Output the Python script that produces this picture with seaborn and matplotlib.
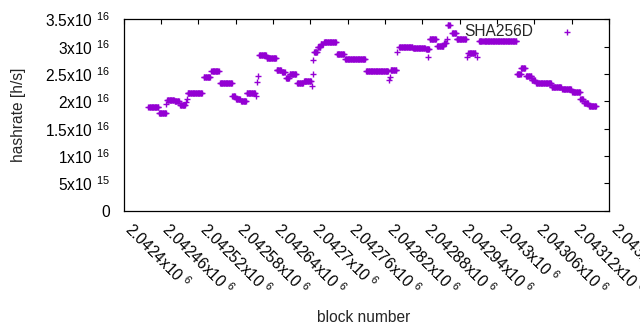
import numpy as np
import pandas as pd
import matplotlib
matplotlib.use('Agg')
import matplotlib.pyplot as plt
import seaborn as sns

# Hashrate plateaus: block range (first, last) and value in 1e16 h/s
run_start = [2042440, 2042457, 2042468, 2042470, 2042482, 2042491, 2042500, 2042502,
             2042503, 2042529, 2042541, 2042555, 2042575, 2042581, 2042589, 2042598,
             2042613, 2042614, 2042616, 2042618, 2042630, 2042646, 2042655, 2042661,
             2042667, 2042679, 2042690, 2042703, 2042704, 2042705, 2042706, 2042712,
             2042717, 2042722, 2042743, 2042756, 2042790, 2042827, 2042828, 2042829,
             2042839, 2042843, 2042865, 2042886, 2042890, 2042892, 2042904, 2042915,
             2042919, 2042921, 2042928, 2042935, 2042952, 2042954, 2042968, 2042971,
             2042978, 2043032, 2043039, 2043047, 2043056, 2043063, 2043088, 2043105,
             2043121, 2043134, 2043140, 2043148]
run_end = [2042456, 2042468, 2042468, 2042481, 2042489, 2042499, 2042500, 2042502,
           2042526, 2042539, 2042553, 2042574, 2042579, 2042587, 2042597, 2042611,
           2042613, 2042614, 2042616, 2042629, 2042645, 2042653, 2042659, 2042666,
           2042677, 2042688, 2042701, 2042703, 2042704, 2042705, 2042711, 2042716,
           2042720, 2042741, 2042754, 2042788, 2042825, 2042827, 2042828, 2042838,
           2042839, 2042864, 2042884, 2042891, 2042890, 2042902, 2042914, 2042918,
           2042919, 2042924, 2042934, 2042950, 2042952, 2042965, 2042968, 2042976,
           2043031, 2043038, 2043045, 2043055, 2043061, 2043087, 2043103, 2043119,
           2043133, 2043138, 2043146, 2043159]
run_hashrate = [1.89, 1.79, 1.95, 2.03, 2.00, 1.93, 1.99, 2.04,
                2.16, 2.45, 2.55, 2.33, 2.10, 2.04, 2.00, 2.16,
                2.10, 2.36, 2.46, 2.84, 2.79, 2.57, 2.53, 2.43,
                2.51, 2.34, 2.38, 2.28, 2.51, 2.76, 2.91, 2.99,
                3.05, 3.08, 2.86, 2.77, 2.55, 2.39, 2.45, 2.58,
                2.90, 3.00, 2.98, 2.95, 2.82, 3.14, 3.02, 3.07,
                3.14, 3.39, 3.25, 3.14, 2.82, 2.88, 2.81, 3.10,
                3.11, 2.51, 2.61, 2.46, 2.40, 2.34, 2.26, 2.23,
                2.17, 2.04, 1.97, 1.91]

x_ticks = [2042400 + 60 * i for i in range(14)]
x_ticklabels = ['2.0424x10 $^{6}$', '2.04246x10 $^{6}$', '2.04252x10 $^{6}$', '2.04258x10 $^{6}$',
                '2.04264x10 $^{6}$', '2.0427x10 $^{6}$', '2.04276x10 $^{6}$', '2.04282x10 $^{6}$',
                '2.04288x10 $^{6}$', '2.04294x10 $^{6}$', '2.043x10 $^{6}$', '2.04306x10 $^{6}$',
                '2.04312x10 $^{6}$', '2.04318x10 $^{6}$']
y_ticks = [0, 5e15, 1e16, 1.5e16, 2e16, 2.5e16, 3e16, 3.5e16]
y_ticklabels = ['0', '5x10 $^{15}$', '1x10 $^{16}$', '1.5x10 $^{16}$', '2x10 $^{16}$',
                '2.5x10 $^{16}$', '3x10 $^{16}$', '3.5x10 $^{16}$']

# una riga per blocco
rows = []
for s, e, v in zip(run_start, run_end, run_hashrate):
    for b in range(s, e + 1):
        rows.append({'block': b, 'hashrate': v * 1e16})
df = pd.DataFrame(rows)

sns.set_theme(style='white')
plt.rcParams['font.family'] = ['Liberation Sans', 'DejaVu Sans']
plt.rcParams['mathtext.default'] = 'regular'
fs = 11.2

fig = plt.figure(figsize=(6.4, 3.3), dpi=100)
ax = fig.add_axes([123.5 / 640, 1 - 210.7 / 330, 485.5 / 640, 191.3 / 330])

sns.scatterplot(data=df, x='block', y='hashrate', marker='+', color='#9400D3',
                s=24, linewidth=1, label='SHA256D', ax=ax)

ax.set_xlim(2042400, 2043180)
ax.set_ylim(0, 3.5e16)
ax.set_xticks(x_ticks)
ax.set_xticklabels(x_ticklabels, rotation=-45, ha='left', va='baseline',
                   rotation_mode='anchor', fontsize=fs)
ax.set_yticks(y_ticks)
ax.set_yticklabels(y_ticklabels, fontsize=fs)
ax.tick_params(axis='both', direction='in', top=True, right=True,
               length=3.5, width=0.8, colors='black')
ax.tick_params(axis='x', pad=14)
ax.tick_params(axis='y', pad=10)
for sp in ax.spines.values():
    sp.set_color('black')
    sp.set_linewidth(0.9)

ax.set_xlabel('block number', fontsize=fs)
ax.set_ylabel('hashrate [h/s]', fontsize=fs)
ax.xaxis.set_label_coords(0.495, -0.52)
ax.yaxis.set_label_coords(-0.2015, 0.5)

ax.legend(loc='upper right', bbox_to_anchor=(0.9584, 1.01), markerfirst=False,
          frameon=False, fontsize=fs, handletextpad=1.18, borderaxespad=0,
          handlelength=2)

plt.savefig('out.png', dpi=100)
plt.close()
